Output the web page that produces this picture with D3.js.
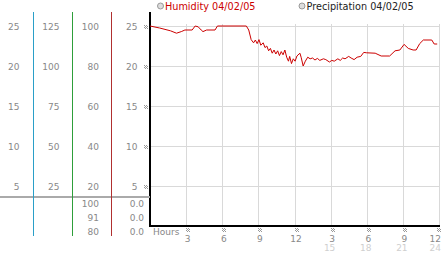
<!DOCTYPE html>
<html><head><meta charset="utf-8">
<script src="https://cdn.jsdelivr.net/npm/d3@7"></script>
<style>body{margin:0;background:#fff}svg{display:block}text{font-family:"DejaVu Sans",sans-serif}</style>
</head><body>
<script>
// ---- data ----
const hours = [0,0.8,1.7,2.2,2.6,2.9,3.5,3.75,4.0,4.25,4.4,4.7,5.4,5.6,8.0,8.2,8.4,8.6,8.75,8.9,9.05,9.2,9.4,9.55,9.7,9.85,10.0,10.15,10.3,10.45,10.6,10.75,10.9,11.05,11.2,11.35,11.5,11.6,11.75,11.9,12.05,12.2,12.45,12.55,12.72,12.9,13.1,13.3,13.5,13.7,13.9,14.1,14.4,14.6,14.9,15.1,15.3,15.6,15.8,16.0,16.2,16.5,16.7,16.95,17.2,17.5,17.75,18.0,18.7,19.2,19.9,20.35,20.75,21.1,21.45,21.85,22.1,22.4,22.7,23.4,23.6,23.85];
const humidity = [25.0,24.75,24.4,24.1,24.3,24.5,24.5,25.0,24.9,24.5,24.3,24.5,24.5,25.0,25.0,24.5,23.3,22.9,23.25,22.8,23.3,22.6,22.9,22.3,22.5,21.9,22.2,21.6,22.0,21.5,21.9,21.3,21.8,21.4,22.0,21.1,20.6,21.2,20.3,20.9,20.6,21.25,21.6,21.1,20.0,20.6,21.1,20.9,21.0,20.75,20.95,20.7,20.9,20.8,20.5,20.7,20.6,20.9,20.7,21.0,20.9,21.2,21.0,20.8,21.1,21.2,21.7,21.65,21.6,21.25,21.25,21.9,22.0,22.7,22.2,22.0,22.0,22.8,23.25,23.25,22.75,22.75];
const gridValues = [25,20,15,10,5];
const col1Labels = ["25","20","15","10","5"];
const col2Labels = ["125","100","75","50","25"];
const col3Labels = ["100","80","60","40","20"];
const col4Labels = ["25","20","15","10","5"];
const col3Lower = ["100","91","80"];
const col4Lower = ["0.0","0.0","0.0"];
const xTickHours = [3,6,9,12,15,18,21,24];
const xTickLabels = ["3","6","9","12","3","6","9","12"];
const xTickLabels2 = ["","","","","15","18","21","24"];
const legendLabels = ["Humidity 04/02/05","Precipitation 04/02/05"];

// ---- drawing ----
const W = 442, H = 253;
const svg = d3.select("body").append("svg").attr("width", W).attr("height", H);
const x = d3.scaleLinear().domain([0,24]).range([150,439]);
const y = d3.scaleLinear().domain([0,26.75]).range([226,12]);

// grid
svg.append("g").selectAll("line").data(gridValues).join("line")
  .attr("x1",150).attr("x2",440).attr("y1",d=>y(d)+0.5).attr("y2",d=>y(d)+0.5)
  .attr("stroke","#d9d9d9");
svg.append("g").selectAll("line").data(xTickHours).join("line")
  .attr("x1",d=>Math.round(x(d))+0.5).attr("x2",d=>Math.round(x(d))+0.5).attr("y1",24).attr("y2",226)
  .attr("stroke","#d9d9d9");

// marker pattern
function marker(g, cx, cy){
  const pts=[[0,0],[2,0],[1,1],[3,1],[0,2],[2,2],[1,3],[3,3]];
  g.append("g").selectAll("rect").data(pts).join("rect")
   .attr("x",p=>cx+p[0]).attr("y",p=>cy+p[1]).attr("width",1).attr("height",1).attr("fill","#999");
}
gridValues.forEach(v=>marker(svg, 144, Math.round(y(v))-1));
xTickHours.forEach(h=>marker(svg, Math.min(Math.round(x(h)), 437), 228));

// axes
svg.append("line").attr("x1",150).attr("x2",150).attr("y1",12).attr("y2",227).attr("stroke","#000").attr("stroke-width",2);
svg.append("line").attr("x1",149).attr("x2",440).attr("y1",226).attr("y2",226).attr("stroke","#000").attr("stroke-width",2);

// left panel
const lab = "#888";
svg.append("line").attr("x1",0).attr("x2",150).attr("y1",197).attr("y2",197).attr("stroke","#aaa").attr("stroke-width",2);
[[33.5,"#2a9fc8"],[72.5,"#2e9e3a"],[111.5,"#b03030"]].forEach(([lx,c])=>{
  svg.append("line").attr("x1",lx).attr("x2",lx).attr("y1",12).attr("y2",236).attr("stroke",c);
});
function col(labels, xr){
  svg.append("g").selectAll("text").data(labels).join("text")
    .attr("x",xr).attr("y",(d,i)=>y(gridValues[i])+4).attr("text-anchor","end")
    .attr("font-size",9).attr("fill",lab).text(d=>d);
}
col(col1Labels,19.5); col(col2Labels,59.5); col(col3Labels,99); col(col4Labels,137.5);
const lowerY = [207,221,235];
svg.append("g").selectAll("text").data(col3Lower).join("text")
  .attr("x",99).attr("y",(d,i)=>lowerY[i]).attr("text-anchor","end").attr("font-size",9).attr("fill",lab).text(d=>d);
svg.append("g").selectAll("text").data(col4Lower).join("text")
  .attr("x",144).attr("y",(d,i)=>lowerY[i]).attr("text-anchor","end").attr("font-size",9).attr("fill",lab).text(d=>d);

// x labels
const last = xTickHours.length - 1;
svg.append("text").attr("x",153).attr("y",235).attr("font-size",9).attr("fill",lab).text("Hours");
svg.append("g").selectAll("text").data(xTickLabels).join("text")
  .attr("x",(d,i)=>i===last ? 441 : x(xTickHours[i])+1.5).attr("y",241.5)
  .attr("text-anchor",(d,i)=>i===last ? "end" : "middle")
  .attr("font-size",9).attr("fill",lab).text(d=>d);
svg.append("g").selectAll("text").data(xTickLabels2).join("text")
  .attr("x",(d,i)=>i===last ? 441 : x(xTickHours[i])-1).attr("y",251)
  .attr("text-anchor",(d,i)=>i===last ? "end" : "middle")
  .attr("font-size",9).attr("fill","#cfcfcf").text(d=>d);

// legend
const legX = [160.5, 302];
const legC = ["#cc0000","#222"];
legendLabels.forEach((t,i)=>{
  svg.append("circle").attr("cx",legX[i]).attr("cy",6).attr("r",3).attr("fill","#ddd").attr("stroke","#999");
  svg.append("text").attr("x",legX[i]+4.5).attr("y",9.5).attr("font-size",9.7).attr("fill",legC[i]).text(t);
});

// humidity line
const line = d3.line().x((d,i)=>x(hours[i])).y(d=>y(d));
svg.append("path").datum(humidity).attr("d",line).attr("fill","none").attr("stroke","#cc0000").attr("stroke-width",1);
</script>
</body></html>
